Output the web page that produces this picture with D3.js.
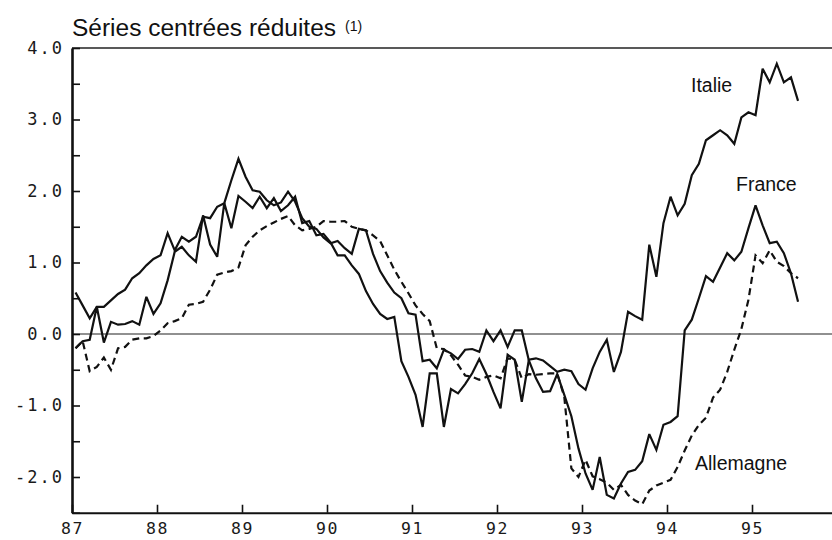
<!DOCTYPE html>
<html>
<head>
<meta charset="utf-8">
<script src="https://cdn.jsdelivr.net/npm/d3@7"></script>
<style>
  html, body { margin: 0; padding: 0; background: #fff; }
  svg { display: block; }
  .tick-label { font-family: "DejaVu Sans Mono", "Liberation Mono", monospace; font-size: 17px; fill: #1a1a1a; }
  .x-label { font-size: 16.5px; }
  .serif-label { font-family: "Liberation Sans", Arial, Helvetica, sans-serif; fill: #111; }
</style>
</head>
<body>
<svg id="chart" width="832" height="540"></svg>
<script>
// Year ticks on the time axis (two-digit years)
const yearTicks = [87, 88, 89, 90, 91, 92, 93, 94, 95];
// Tick marks every half unit, labels on whole units
const yTickValues = [-2.5, -2, -1.5, -1, -0.5, 0, 0.5, 1, 1.5, 2, 2.5, 3, 3.5, 4];
const firstYear = 87;          // monthly series start in January 1987

// Standardised series, one value per month (Jan 1987 - Jul 1995)
const france = [
  0.58, 0.40, 0.22, 0.38, 0.38, 0.47, 0.56, 0.62, 0.78, 0.85,
  0.96, 1.05, 1.10, 1.41, 1.17, 1.36, 1.29, 1.36, 1.64, 1.62,
  1.78, 1.83, 2.15, 2.45, 2.20, 2.01, 1.99, 1.87, 1.80, 1.84,
  1.99, 1.85, 1.62, 1.50, 1.47, 1.35, 1.27, 1.30, 1.20, 1.12,
  1.47, 1.45, 1.12, 0.88, 0.72, 0.58, 0.50, 0.29, 0.27, -0.38,
  -0.36, -0.48, -0.22, -0.27, -0.35, -0.22, -0.21, -0.25, 0.05, -0.10,
  0.05, -0.18, 0.05, 0.05, -0.37, -0.62, -0.81, -0.80, -0.56, -0.85,
  -1.15, -1.60, -1.95, -2.18, -1.72, -2.25, -2.30, -2.09, -1.93, -1.90,
  -1.78, -1.40, -1.62, -1.27, -1.23, -1.15, 0.05, 0.20, 0.50, 0.81,
  0.73, 0.93, 1.13, 1.03, 1.15, 1.48, 1.80, 1.52, 1.27, 1.29,
  1.13, 0.85, 0.45
];

const italie = [
  -0.20, -0.10, -0.08, 0.38, -0.12, 0.17, 0.13, 0.14, 0.18, 0.13,
  0.52, 0.28, 0.43, 0.75, 1.15, 1.22, 1.10, 1.01, 1.66, 1.25,
  1.08, 1.83, 1.48, 1.93, 1.85, 1.76, 1.92, 1.76, 1.90, 1.72,
  1.80, 1.92, 1.55, 1.58, 1.38, 1.40, 1.28, 1.10, 1.10, 0.96,
  0.84, 0.60, 0.42, 0.28, 0.21, 0.24, -0.38, -0.60, -0.85, -1.30,
  -0.55, -0.55, -1.30, -0.77, -0.83, -0.70, -0.55, -0.35, -0.56, -0.81,
  -1.04, -0.29, -0.36, -0.95, -0.36, -0.34, -0.37, -0.45, -0.53, -0.50,
  -0.52, -0.70, -0.78, -0.48, -0.25, -0.08, -0.53, -0.25, 0.31, 0.25,
  0.20, 1.25, 0.80, 1.55, 1.92, 1.66, 1.82, 2.22, 2.38, 2.71,
  2.78, 2.85, 2.78, 2.66, 3.03, 3.10, 3.06, 3.71, 3.52, 3.78,
  3.52, 3.59, 3.26
];

const allemagne = [
  -0.20, -0.10, -0.52, -0.46, -0.33, -0.50, -0.20, -0.18, -0.08, -0.06,
  -0.06, -0.03, 0.05, 0.15, 0.18, 0.22, 0.41, 0.42, 0.45, 0.62,
  0.83, 0.86, 0.88, 0.93, 1.24, 1.36, 1.45, 1.51, 1.56, 1.61,
  1.65, 1.52, 1.45, 1.47, 1.50, 1.58, 1.57, 1.57, 1.58, 1.50,
  1.47, 1.45, 1.38, 1.30, 1.10, 0.90, 0.73, 0.57, 0.40, 0.28,
  0.18, -0.20, -0.21, -0.30, -0.43, -0.58, -0.60, -0.64, -0.60, -0.58,
  -0.62, -0.34, -0.36, -0.62, -0.56, -0.57, -0.56, -0.55, -0.55, -0.88,
  -1.88, -2.00, -1.76, -1.99, -2.03, -2.08, -2.18, -2.11, -2.25, -2.33,
  -2.38, -2.19, -2.12, -2.08, -2.04, -1.86, -1.63, -1.42, -1.27, -1.17,
  -0.89, -0.78, -0.53, -0.22, 0.07, 0.48, 1.10, 0.99, 1.17, 1.01,
  0.95, 0.85, 0.78
];

const seriesNames = ["France", "Italie", "Allemagne"];
const titleText = "Séries centrées réduites";
const noteText = "(1)";

const svg = d3.select("#chart");
const plotLeft = 72, plotRight = 832, plotTop = 48, plotBottom = 512.75;

const x = d3.scaleLinear().domain([87, 96]).range([plotLeft, plotLeft + 9 * 85]);
const y = d3.scaleLinear().domain([-2.5, 4]).range([plotBottom, plotTop]);

// month index -> fractional year, plotted mid-month
const monthTime = i => firstYear + (i + 0.5) / 12;

svg.append("defs").append("clipPath").attr("id", "plotClip")
  .append("rect").attr("x", plotLeft).attr("y", plotTop - 10)
  .attr("width", plotRight - plotLeft).attr("height", plotBottom - plotTop + 20);

// frame: top border and zero reference line
svg.append("line").attr("x1", plotLeft).attr("x2", plotRight)
  .attr("y1", y(4)).attr("y2", y(4))
  .attr("stroke", "#222").attr("stroke-width", 1.6);
svg.append("line").attr("x1", plotLeft).attr("x2", plotRight)
  .attr("y1", y(0)).attr("y2", y(0))
  .attr("stroke", "#222").attr("stroke-width", 1.2);

const fmt = d => (d < 0 ? "-" : "") + Math.abs(d).toFixed(1);

// vertical axis
const yAxis = d3.axisLeft(y).tickValues(yTickValues).tickSize(-8).tickSizeOuter(0)
  .tickPadding(8)
  .tickFormat(d => Number.isInteger(d) ? fmt(d) : "");
const gy = svg.append("g").attr("transform", `translate(${plotLeft},0)`).call(yAxis);
gy.select(".domain").attr("stroke", "#111").attr("stroke-width", 2.6);
gy.selectAll(".tick line").attr("stroke", "#111").attr("stroke-width", 1.6);
gy.selectAll(".tick text").attr("class", "tick-label").attr("font-family", null).attr("font-size", null)
  .style("letter-spacing", "2px");

// time axis
const xAxis = d3.axisBottom(x).tickValues(yearTicks).tickSize(-8).tickSizeOuter(0)
  .tickPadding(10).tickFormat(d => String(d));
const gx = svg.append("g").attr("transform", `translate(0,${plotBottom})`).call(xAxis);
gx.select(".domain").attr("stroke", "#111").attr("stroke-width", 2.2);
gx.selectAll(".tick line").attr("stroke", "#111").attr("stroke-width", 1.6);
gx.selectAll(".tick text").attr("class", "tick-label x-label").attr("font-family", null).attr("font-size", null)
  .style("letter-spacing", "1.5px");

// series lines
const line = d3.line()
  .x((d, i) => x(monthTime(i)))
  .y(d => y(d));

const plot = svg.append("g").attr("clip-path", "url(#plotClip)");
const series = [
  { name: seriesNames[0], values: france, dash: null },
  { name: seriesNames[1], values: italie, dash: null },
  { name: seriesNames[2], values: allemagne, dash: "7,4.5" }
];
plot.selectAll("path.series").data(series).join("path")
  .attr("class", "series")
  .attr("d", s => line(s.values))
  .attr("fill", "none")
  .attr("stroke", "#111")
  .attr("stroke-width", 2.2)
  .attr("stroke-linejoin", "miter")
  .attr("stroke-miterlimit", 3)
  .attr("stroke-dasharray", s => s.dash);

// series names
const nameLabels = [
  { text: seriesNames[1], x: 691, y: 92 },
  { text: seriesNames[0], x: 736, y: 190.5 },
  { text: seriesNames[2], x: 695, y: 470 }
];
svg.selectAll("text.name").data(nameLabels).join("text")
  .attr("class", "name serif-label")
  .attr("x", d => d.x).attr("y", d => d.y)
  .attr("font-size", 19.5)
  .text(d => d.text);

// title with footnote marker
svg.append("text").attr("class", "serif-label")
  .attr("x", 72).attr("y", 36)
  .attr("font-size", 23)
  .attr("textLength", 264).attr("lengthAdjust", "spacingAndGlyphs")
  .text(titleText);
svg.append("text").attr("class", "serif-label")
  .attr("x", 345).attr("y", 31)
  .attr("font-size", 14)
  .text(noteText);
</script>
</body>
</html>
